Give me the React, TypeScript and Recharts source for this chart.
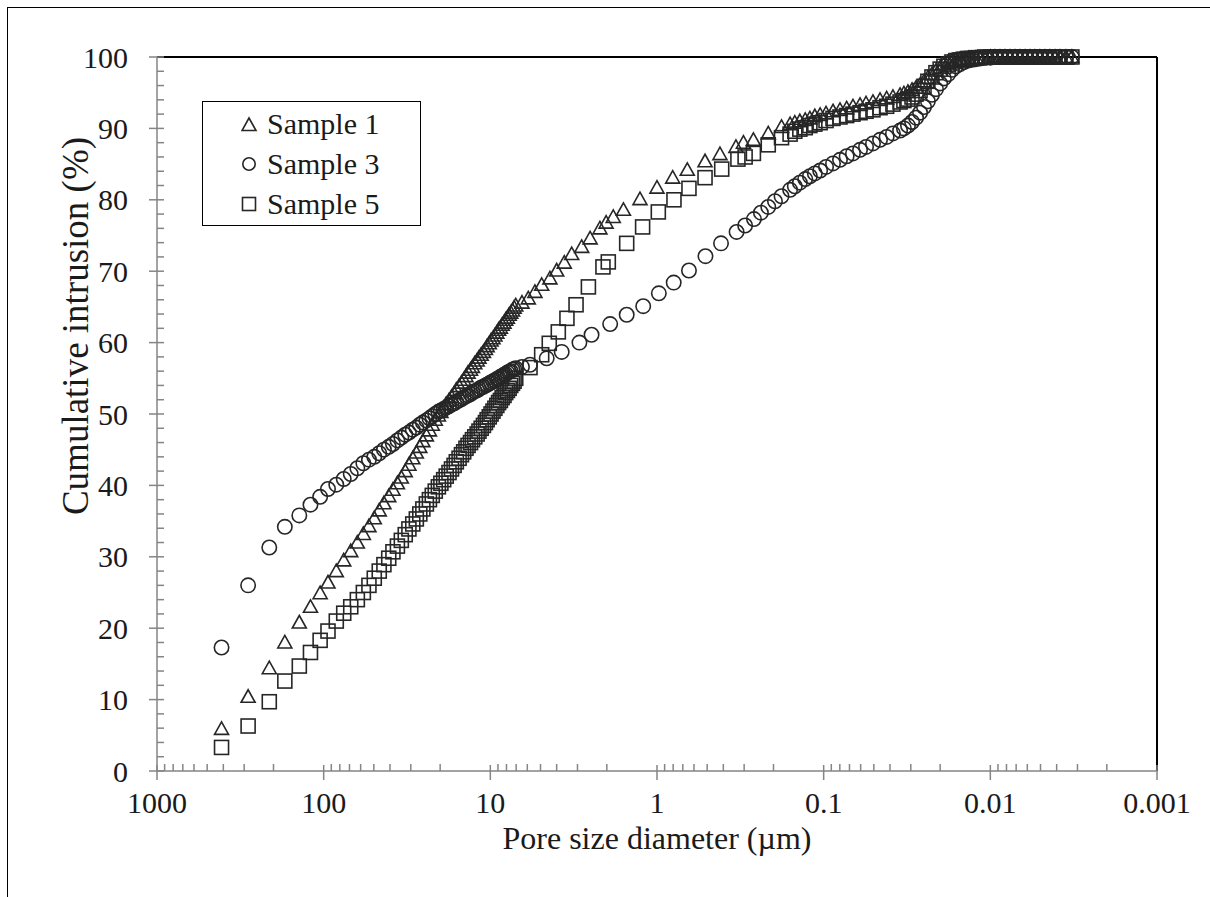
import React from 'react';
import { ScatterChart, Scatter, XAxis, YAxis, ReferenceLine, Legend } from 'recharts';

// pore diameters (µm) shared by all samples in the low-pressure run
const lowDiameters = [
  410, 284, 212, 171, 140, 120, 105, 94.2, 84.0, 75.8, 68.8, 62.8, 57.8, 53.5, 49.7, 46.4, 43.5, 40.7,
  38.4, 36.1, 34.2, 32.4, 30.8, 29.2, 27.8, 26.5, 25.4, 24.2, 23.2, 22.3, 21.4, 20.5, 19.8, 19.05, 18.4,
  17.7, 17.1, 16.5, 16.0, 15.4, 14.9, 14.45, 14.0, 13.6, 13.15, 12.8, 12.4, 12.0, 11.7, 11.35, 11.0,
  10.7, 10.45, 10.15, 9.9, 9.64, 9.39, 9.14, 8.92, 8.7, 8.49, 8.28, 8.09, 7.9, 7.71, 7.54, 7.36, 7.2, 7.04,
];

const sample1Low = [
  5.9, 10.4, 14.4, 18.0, 20.8, 23.0, 24.9, 26.4, 28.0, 29.5, 30.8, 32.0, 33.2, 34.3, 35.4, 36.5, 37.5, 38.5,
  39.4, 40.3, 41.1, 42.0, 42.9, 43.8, 44.6, 45.4, 46.2, 47.0, 47.7, 48.5, 49.2, 49.8, 50.3, 50.9, 51.4,
  51.9, 52.4, 52.9, 53.4, 53.9, 54.4, 54.8, 55.3, 55.8, 56.2, 56.6, 57.1, 57.5, 57.9, 58.3, 58.7,
  59.1, 59.5, 59.9, 60.3, 60.6, 61.0, 61.4, 61.8, 62.1, 62.5, 62.8, 63.2, 63.5, 63.9, 64.2, 64.5, 64.9, 65.2,
];

const sample3Low = [
  17.3, 26.0, 31.3, 34.2, 35.8, 37.3, 38.4, 39.5, 40.1, 40.9, 41.6, 42.4, 43.1, 43.6, 44.0, 44.5, 45.0, 45.4,
  45.8, 46.3, 46.7, 47.1, 47.4, 47.8, 48.1, 48.5, 48.8, 49.1, 49.4, 49.7, 50.0, 50.3, 50.5, 50.7, 50.9,
  51.1, 51.3, 51.5, 51.7, 51.9, 52.1, 52.3, 52.5, 52.6, 52.8, 53.0, 53.2, 53.3, 53.5, 53.7, 53.8,
  54.0, 54.1, 54.3, 54.4, 54.6, 54.7, 54.9, 55.0, 55.2, 55.3, 55.5, 55.6, 55.8, 55.9, 56.0, 56.2, 56.3, 56.4,
];

const sample5Low = [
  3.3, 6.3, 9.7, 12.6, 14.7, 16.6, 18.3, 19.6, 21.0, 22.1, 23.0, 24.0, 25.0, 26.0, 27.0, 28.0, 28.9, 29.8,
  30.7, 31.5, 32.3, 33.1, 33.9, 34.6, 35.3, 36.0, 36.7, 37.4, 38.0, 38.6, 39.2, 39.8, 40.3, 40.8, 41.3,
  41.8, 42.3, 42.8, 43.3, 43.8, 44.3, 44.7, 45.2, 45.6, 46.0, 46.4, 46.8, 47.2, 47.6, 48.0, 48.4,
  48.8, 49.2, 49.6, 50.0, 50.4, 50.8, 51.2, 51.6, 51.9, 52.3, 52.6, 53.0, 53.3, 53.6, 54.0, 54.3, 54.6, 55.0,
];

// [diameter µm, cumulative intrusion %] between 7 and 0.2 µm
const sample1Mid: [number, number][] = [
  [6.46, 65.6], [5.92, 66.2], [5.4, 67.1], [4.92, 68.1], [4.39, 69.0], [4.0, 70.1], [3.6, 71.2], [3.25, 72.4],
  [2.83, 73.4], [2.52, 74.6], [2.2, 76.0], [2.02, 76.8], [1.83, 77.6], [1.59, 78.6], [1.265, 80.1], [1.0, 81.7],
  [0.805, 83.1], [0.658, 84.2], [0.515, 85.4], [0.419, 86.4], [0.336, 87.4], [0.303, 88.0], [0.264, 88.4],
  [0.215, 89.3],
];

const sample3Mid: [number, number][] = [
  [6.46, 56.6], [5.78, 56.9], [4.59, 57.8], [3.73, 58.7], [2.92, 60.0], [2.47, 61.1], [1.91, 62.6], [1.52, 63.9],
  [1.21, 65.1], [0.975, 66.9], [0.794, 68.4], [0.643, 70.1], [0.512, 72.1], [0.413, 73.9], [0.333, 75.5],
  [0.296, 76.4], [0.262, 77.3], [0.238, 78.2], [0.215, 79.0], [0.196, 79.8],
];

const sample5Mid: [number, number][] = [
  [5.78, 56.5], [4.92, 58.3], [4.43, 59.9], [3.91, 61.5], [3.47, 63.4], [3.06, 65.3], [2.58, 67.8], [2.11, 70.6],
  [1.96, 71.3], [1.52, 73.9], [1.22, 76.2], [0.982, 78.3], [0.791, 80.0], [0.643, 81.6], [0.515, 83.1],
  [0.409, 84.3], [0.327, 85.7], [0.296, 86.0], [0.264, 86.5], [0.215, 87.7],
];

// high-pressure run, shared diameters
const highDiameters = [
  0.179, 0.159, 0.149, 0.139, 0.129, 0.121, 0.113, 0.105, 0.0968, 0.0879, 0.0798, 0.0728, 0.0667, 0.0605,
  0.0557, 0.0506, 0.0459, 0.0419, 0.0384, 0.0348, 0.033, 0.0312, 0.0295, 0.0279, 0.0264, 0.025, 0.0237,
  0.0224, 0.0212, 0.02, 0.019, 0.0179, 0.017, 0.0161, 0.0152, 0.0144, 0.0136, 0.0129, 0.0122, 0.0115,
  0.0108, 0.01, 0.00938, 0.00875, 0.00817, 0.00762, 0.00711, 0.00664, 0.00619, 0.00578, 0.0054, 0.00504,
  0.0047, 0.00439, 0.00409, 0.00382, 0.00352, 0.00324,
];

const sample1High = [
  90.2, 90.6, 90.8, 91.0, 91.2, 91.4, 91.7, 91.9, 92.1, 92.4, 92.6, 92.8, 93.1, 93.3, 93.5, 93.7, 94.0, 94.2,
  94.4, 94.7, 94.9, 95.1, 95.4, 95.7, 96.1, 96.6, 97.1, 97.6, 98.1, 98.5, 99.0, 99.3, 99.5, 99.6, 99.7, 99.7,
  99.8, 99.8, 99.9, 99.9, 99.9, 100, 100, 100, 100, 100, 100, 100, 100, 100, 100, 100, 100, 100, 100, 100, 100, 100,
];

const sample3High = [
  80.5, 81.4, 81.9, 82.4, 82.9, 83.3, 83.7, 84.1, 84.6, 85.1, 85.6, 86.1, 86.5, 87.0, 87.4, 87.9, 88.4, 88.8,
  89.3, 89.7, 90.0, 90.4, 90.9, 91.5, 92.2, 93.0, 93.8, 94.7, 95.5, 96.3, 97.0, 97.6, 98.2, 98.7, 99.0, 99.3,
  99.5, 99.6, 99.7, 99.8, 99.9, 99.9, 100, 100, 100, 100, 100, 100, 100, 100, 100, 100, 100, 100, 100, 100, 100, 100,
];

const sample5High = [
  88.7, 89.2, 89.6, 89.9, 90.1, 90.4, 90.6, 90.8, 91.1, 91.4, 91.6, 91.8, 92.0, 92.2, 92.4, 92.6, 92.9, 93.1,
  93.4, 93.7, 93.9, 94.1, 94.4, 94.8, 95.3, 95.9, 96.6, 97.2, 97.8, 98.3, 98.7, 99.0, 99.3, 99.5, 99.6, 99.7,
  99.8, 99.8, 99.9, 99.9, 100, 100, 100, 100, 100, 100, 100, 100, 100, 100, 100, 100, 100, 100, 100, 100, 100, 100,
];

const xMajorTicks = [1000, 100, 10, 1, 0.1, 0.01, 0.001];
const yMajorTicks = [0, 10, 20, 30, 40, 50, 60, 70, 80, 90, 100];
const seriesNames = ['Sample 1', 'Sample 3', 'Sample 5'];

const FONT = "'Liberation Serif', 'Times New Roman', serif";
const TEXT = '#1a1a1a';
const AXIS = '#858585';
const MARK = '#262626';

const build = (low: number[], mid: [number, number][], high: number[]) => [
  ...lowDiameters.map((d, i) => ({ d, v: low[i] })),
  ...mid.map(([d, v]) => ({ d, v })),
  ...highDiameters.map((d, i) => ({ d, v: high[i] })),
];

const s1 = build(sample1Low, sample1Mid, sample1High);
const s3 = build(sample3Low, sample3Mid, sample3High);
const s5 = build(sample5Low, sample5Mid, sample5High);

// log axis: decades plus 2..9 minor ticks
const xTicks: number[] = [];
for (let i = 0; i < xMajorTicks.length - 1; i++) {
  const base = xMajorTicks[i + 1];
  xTicks.push(xMajorTicks[i]);
  for (let k = 9; k >= 2; k--) xTicks.push(+(base * k).toPrecision(3));
}
xTicks.push(0.001);
const yTicks: number[] = [];
for (let v = 0; v <= 100; v += 2) yTicks.push(v);

const triPath = (cx: number, cy: number) =>
  `M${cx},${cy - 7} L${cx + 7},${cy + 5.5} L${cx - 7},${cy + 5.5} Z`;

const Triangle = (p: any) => <path d={triPath(p.cx, p.cy)} fill="none" stroke={MARK} strokeWidth={1.6} />;
const Circle = (p: any) => <circle cx={p.cx} cy={p.cy} r={7.2} fill="none" stroke={MARK} strokeWidth={1.6} />;
const Square = (p: any) => (
  <rect x={p.cx - 7} y={p.cy - 7} width={14} height={14} fill="none" stroke={MARK} strokeWidth={1.6} />
);

const XTick = ({ x, y, payload }: any) => {
  const major = xMajorTicks.includes(payload.value);
  return (
    <g>
      <line x1={x} x2={x} y1={major ? y - 6 : y - 7} y2={major ? y + 9 : y} stroke={AXIS} strokeWidth={1.5} />
      {major && (
        <text x={x} y={y + 42} textAnchor="middle" fontFamily={FONT} fontSize={30} fill={TEXT}>
          {String(payload.value)}
        </text>
      )}
    </g>
  );
};

const YTick = ({ x, y, payload }: any) => {
  const major = yMajorTicks.includes(payload.value);
  return (
    <g>
      <line x1={major ? x - 8 : x} x2={x + 7} y1={y} y2={y} stroke={AXIS} strokeWidth={1.5} />
      {major && (
        <text x={x - 29} y={y + 10.5} textAnchor="end" fontFamily={FONT} fontSize={30} fill={TEXT}>
          {payload.value}
        </text>
      )}
    </g>
  );
};

const legendIcons = [
  <path key="t" d={triPath(8, 9)} fill="none" stroke={MARK} strokeWidth={1.6} />,
  <circle key="c" cx={8} cy={8} r={6.2} fill="none" stroke={MARK} strokeWidth={1.6} />,
  <rect key="s" x={1.5} y={1.5} width={13} height={13} fill="none" stroke={MARK} strokeWidth={1.6} />,
];

const LegendBox = () => (
  <div
    style={{
      width: 219,
      height: 125,
      border: '1.5px solid #000',
      background: '#fff',
      boxSizing: 'border-box',
      paddingTop: 2,
    }}
  >
    {seriesNames.map((name, i) => (
      <div key={name} style={{ display: 'flex', alignItems: 'center', height: 40, paddingLeft: 38 }}>
        <svg width={17} height={17} style={{ marginRight: 9 }}>
          {legendIcons[i]}
        </svg>
        <span style={{ fontFamily: FONT, fontSize: 30, color: TEXT, lineHeight: '40px' }}>{name}</span>
      </div>
    ))}
  </div>
);

export default function App() {
  return (
    <div style={{ position: 'absolute', left: 0, top: 0, width: 1210, height: 897, background: '#fff' }}>
      <div
        style={{
          position: 'absolute',
          left: 7,
          top: 7,
          width: 1210,
          height: 900,
          borderTop: '1.5px solid #000',
          borderLeft: '1.5px solid #000',
        }}
      />
      <ScatterChart width={1210} height={897} margin={{ top: 57, right: 53, bottom: 66, left: 97 }}>
        <XAxis
          type="number"
          dataKey="d"
          scale="log"
          domain={[0.001, 1000]}
          reversed
          allowDataOverflow
          ticks={xTicks}
          interval={0}
          height={60}
          tickSize={0}
          tickMargin={0}
          tickLine={false}
          axisLine={{ stroke: AXIS, strokeWidth: 1.5 }}
          tick={<XTick />}
          label={() => (
            <text x={657} y={849} textAnchor="middle" fontFamily={FONT} fontSize={32} fill={TEXT}>
              Pore size diameter (µm)
            </text>
          )}
        />
        <YAxis
          type="number"
          dataKey="v"
          domain={[0, 100]}
          ticks={yTicks}
          interval={0}
          width={60}
          tickSize={0}
          tickMargin={0}
          tickLine={false}
          axisLine={{ stroke: AXIS, strokeWidth: 1.5 }}
          tick={<YTick />}
          label={() => (
            <text
              x={88}
              y={326}
              transform="rotate(-90 88 326)"
              textAnchor="middle"
              fontFamily={FONT}
              fontSize={37}
              fill={TEXT}
            >
              Cumulative intrusion (%)
            </text>
          )}
        />
        <ReferenceLine y={100} stroke="#000" strokeWidth={2} />
        <ReferenceLine x={0.001} stroke="#000" strokeWidth={2} />
        <Legend
          layout="vertical"
          align="center"
          verticalAlign="middle"
          wrapperStyle={{ left: 202, top: 101, width: 219, height: 125 }}
          content={() => <LegendBox />}
        />
        <Scatter name={seriesNames[0]} data={s1} shape={Triangle} isAnimationActive={false} />
        <Scatter name={seriesNames[1]} data={s3} shape={Circle} isAnimationActive={false} />
        <Scatter name={seriesNames[2]} data={s5} shape={Square} isAnimationActive={false} />
      </ScatterChart>
    </div>
  );
}
